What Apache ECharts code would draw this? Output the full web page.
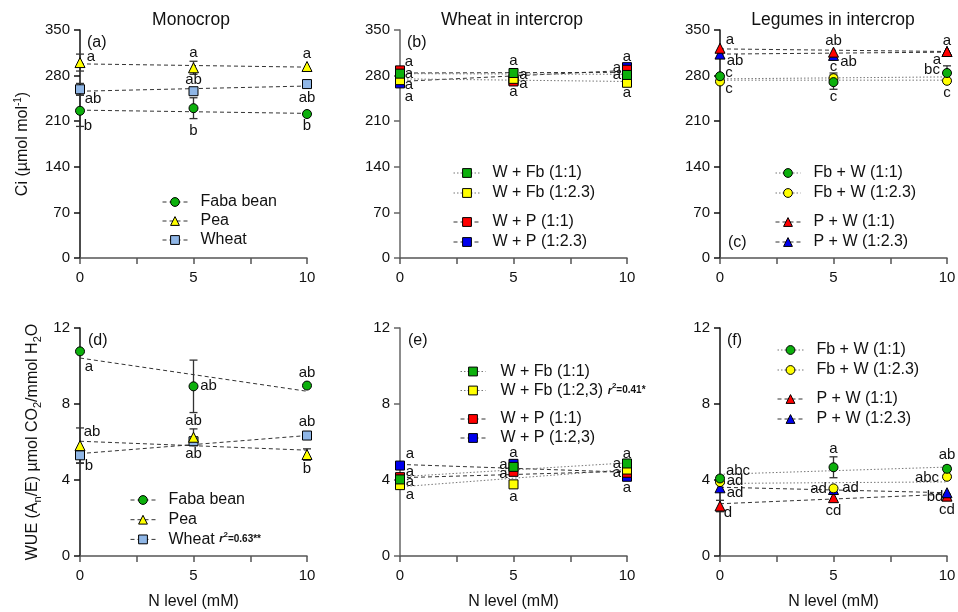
<!DOCTYPE html>
<html><head><meta charset="utf-8">
<script src="https://cdn.jsdelivr.net/npm/echarts@6/dist/echarts.min.js"></script>
<style>html,body{margin:0;padding:0;background:#fff}#c{width:958px;height:612px}</style>
</head><body><div id="c"></div>
<script>
// ---------- DATA ----------
const nLevels = [0, 5, 10];
const xTickLabels = [0, 5, 10];
const ciTicks = [0, 70, 140, 210, 280, 350];
const wueTicks = [0, 4, 8, 12];

// (a) Ci, monocrop
const aFaba = [226, 230, 221], aFabaErr = [24, 16, 0], aFabaFit = [227, 222], aFabaSig = ['b', 'b', 'b'];
const aPea = [300, 292, 294], aPeaErr = [13, 10, 0], aPeaFit = [298, 293], aPeaSig = ['a', 'a', 'a'];
const aWheat = [259, 256, 267], aWheatErr = [9, 4, 0], aWheatFit = [256, 264], aWheatSig = ['ab', 'ab', 'ab'];

// (b) Ci, wheat in intercrop
const bWFb11 = [283, 284, 281], bWFb11Fit = [283, 282], bWFb11Sig = ['a', 'a', 'a'];
const bWFb23 = [273, 275, 269], bWFb23Fit = [275, 271], bWFb23Sig = ['a', 'a', 'a'];
const bWP11 = [288, 271, 289], bWP11Fit = [284, 285], bWP11Sig = ['a', 'a', 'a'];
const bWP23 = [268, 272, 293], bWP23Fit = [271, 288], bWP23Sig = ['a', 'a', 'a'];
const bErr = [0, 0, 0];

// (c) Ci, legumes in intercrop
const cFbW11 = [279, 270, 284], cFbW11Err = [4, 11, 11], cFbW11Fit = [275, 278], cFbW11Sig = ['c', 'c', 'bc'];
const cFbW23 = [271, 276, 272], cFbW23Err = [0, 8, 0], cFbW23Fit = [273, 273], cFbW23Sig = ['c', 'c', 'c'];
const cPW11 = [322, 316, 317], cPW11Err = [0, 0, 0], cPW11Fit = [321, 317], cPW11Sig = ['a', 'ab', 'a'];
const cPW23 = [313, 311, 317], cPW23Err = [0, 0, 0], cPW23Fit = [313, 316], cPW23Sig = ['ab', 'ab', 'a'];

// (d) WUE, monocrop
const dFaba = [10.77, 8.93, 8.97], dFabaErr = [0, 1.38, 0], dFabaFit = [10.42, 8.67], dFabaSig = ['a', 'ab', 'ab'];
const dPea = [5.81, 6.25, 5.34], dPeaErr = [0.93, 0.44, 0.3], dPeaFit = [6.04, 5.57], dPeaSig = ['ab', 'ab', 'b'];
const dWheat = [5.30, 6.04, 6.34], dWheatErr = [0.4, 0.1, 0], dWheatFit = [5.39, 6.34], dWheatSig = ['b', 'ab', 'ab'];

// (e) WUE, wheat in intercrop
const eWFb11 = [4.03, 4.69, 4.87], eWFb11Fit = [4.17, 4.90], eWFb11Sig = ['a', 'a', 'a'];
const eWFb23 = [3.73, 3.77, 4.55], eWFb23Fit = [3.64, 4.55], eWFb23Sig = ['a', 'a', 'a'];
const eWP11 = [4.15, 4.43, 4.38], eWP11Fit = [4.12, 4.46], eWP11Sig = ['a', 'a', 'a'];
const eWP23 = [4.76, 4.85, 4.17], eWP23Fit = [4.82, 4.41], eWP23Sig = ['a', 'a', 'a'];
const eErr = [0, 0, 0];

// (f) WUE, legumes in intercrop
const fFbW11 = [4.08, 4.67, 4.59], fFbW11Err = [0.15, 0.55, 0.15], fFbW11Fit = [4.30, 4.68], fFbW11Sig = ['abc', 'a', 'ab'];
const fFbW23 = [3.89, 3.56, 4.17], fFbW23Err = [0, 0, 0], fFbW23Fit = [3.82, 3.90], fFbW23Sig = ['ad', 'ad', 'abc'];
const fPW11 = [2.63, 3.07, 3.15], fPW11Err = [0.3, 0, 0.1], fPW11Fit = [2.75, 3.25], fPW11Sig = ['d', 'cd', 'cd'];
const fPW23 = [3.59, 3.50, 3.33], fPW23Err = [0, 0, 0], fPW23Fit = [3.62, 3.33], fPW23Sig = ['ad', 'ad', 'bd'];

// ---------- STYLES / LAYOUT ----------
const FONT = '"Liberation Sans", Arial, sans-serif';
const TXT = '#111';
const COL = { faba: '#0cb00c', pea: '#ffff00', wheat: '#8fb6e6', red: '#ff0000', blue: '#0000ee', yellow: '#ffff00', green: '#0cb00c' };
const DASH = { type: [4, 3], color: '#333' };
const DOT = { type: [1.5, 2], color: '#777' };

const gridBoxes = [
  { left: 80, top: 30 }, { left: 400, top: 30 }, { left: 720, top: 30 },
  { left: 80, top: 328 }, { left: 400, top: 328 }, { left: 720, top: 328 }
];
const yAxisColors = ['#111', '#666', '#111', '#111', '#666', '#111'];

const panels = [
  { grid: 0, items: [
    { name: 'Wheat', v: aWheat, e: aWheatErr, f: aWheatFit, s: aWheatSig, sym: 'rect', c: COL.wheat, ln: DASH, off: [[13, 10], [0, -11], [0, 14]] },
    { name: 'Pea', v: aPea, e: aPeaErr, f: aPeaFit, s: aPeaSig, sym: 'triangle', c: COL.pea, ln: DASH, off: [[11, -6], [0, -15], [0, -13]] },
    { name: 'Faba bean', v: aFaba, e: aFabaErr, f: aFabaFit, s: aFabaSig, sym: 'circle', c: COL.faba, ln: DASH, off: [[8, 15], [0, 23], [0, 12]] }
  ]},
  { grid: 1, items: [
    { name: 'W + P (1:2.3)', v: bWP23, e: bErr, f: bWP23Fit, s: bWP23Sig, sym: 'rect', c: COL.blue, ln: DASH, off: [[9, 13], [0, 11], [0, -10]] },
    { name: 'W + P (1:1)', v: bWP11, e: bErr, f: bWP11Fit, s: bWP11Sig, sym: 'rect', c: COL.red, ln: DASH, off: [[9, -9], [10, 2], [-10, -2]] },
    { name: 'W + Fb (1:2.3)', v: bWFb23, e: bErr, f: bWFb23Fit, s: bWFb23Sig, sym: 'rect', c: COL.yellow, ln: DOT, off: [[9, 5], [10, -4], [0, 10]] },
    { name: 'W + Fb (1:1)', v: bWFb11, e: bErr, f: bWFb11Fit, s: bWFb11Sig, sym: 'rect', c: COL.green, ln: DOT, off: [[9, 0], [0, -12], [-10, 0]] }
  ]},
  { grid: 2, items: [
    { name: 'Fb + W (1:2.3)', v: cFbW23, e: cFbW23Err, f: cFbW23Fit, s: cFbW23Sig, sym: 'circle', c: COL.yellow, ln: DOT, off: [[9, 7], [0, -11], [0, 12]] },
    { name: 'Fb + W (1:1)', v: cFbW11, e: cFbW11Err, f: cFbW11Fit, s: cFbW11Sig, sym: 'circle', c: COL.green, ln: DOT, off: [[9, -3], [0, 15], [-15, -3]] },
    { name: 'P + W (1:2.3)', v: cPW23, e: cPW23Err, f: cPW23Fit, s: cPW23Sig, sym: 'triangle', c: COL.blue, ln: DASH, off: [[15, 7], [15, 6], [-10, 8]] },
    { name: 'P + W (1:1)', v: cPW11, e: cPW11Err, f: cPW11Fit, s: cPW11Sig, sym: 'triangle', c: COL.red, ln: DASH, off: [[10, -8], [0, -11], [0, -11]] }
  ]},
  { grid: 3, items: [
    { name: 'Wheat', v: dWheat, e: dWheatErr, f: dWheatFit, s: dWheatSig, sym: 'rect', c: COL.wheat, ln: DASH, off: [[9, 11], [0, 13], [0, -14]] },
    { name: 'Pea', v: dPea, e: dPeaErr, f: dPeaFit, s: dPeaSig, sym: 'triangle', c: COL.pea, ln: DASH, off: [[12, -14], [0, -16], [0, 14]] },
    { name: 'Faba bean', v: dFaba, e: dFabaErr, f: dFabaFit, s: dFabaSig, sym: 'circle', c: COL.faba, ln: DASH, off: [[9, 15], [15, 0], [0, -13]] }
  ]},
  { grid: 4, items: [
    { name: 'W + P (1:2,3)', v: eWP23, e: eErr, f: eWP23Fit, s: eWP23Sig, sym: 'rect', c: COL.blue, ln: DASH, off: [[10, -12], [0, -11], [0, 11]] },
    { name: 'W + P (1:1)', v: eWP11, e: eErr, f: eWP11Fit, s: eWP11Sig, sym: 'rect', c: COL.red, ln: DASH, off: [[10, -5], [-10, 2], [-10, 0]] },
    { name: 'W + Fb (1:2,3)', v: eWFb23, e: eErr, f: eWFb23Fit, s: eWFb23Sig, sym: 'rect', c: COL.yellow, ln: DOT, off: [[10, 10], [0, 12], [-10, -6]] },
    { name: 'W + Fb (1:1)', v: eWFb11, e: eErr, f: eWFb11Fit, s: eWFb11Sig, sym: 'rect', c: COL.green, ln: DOT, off: [[10, 2], [-10, -2], [0, -10]] }
  ]},
  { grid: 5, items: [
    { name: 'P + W (1:1)', v: fPW11, e: fPW11Err, f: fPW11Fit, s: fPW11Sig, sym: 'triangle', c: COL.red, ln: DASH, off: [[8, 7], [0, 13], [0, 14]] },
    { name: 'P + W (1:2.3)', v: fPW23, e: fPW23Err, f: fPW23Fit, s: fPW23Sig, sym: 'triangle', c: COL.blue, ln: DASH, off: [[15, 5], [17, -2], [-12, 4]] },
    { name: 'Fb + W (1:2.3)', v: fFbW23, e: fFbW23Err, f: fFbW23Fit, s: fFbW23Sig, sym: 'circle', c: COL.yellow, ln: DOT, off: [[15, -1], [-15, 0], [-20, 1]] },
    { name: 'Fb + W (1:1)', v: fFbW11, e: fFbW11Err, f: fFbW11Fit, s: fFbW11Sig, sym: 'circle', c: COL.green, ln: DOT, off: [[18, -8], [0, -18], [0, -14]] }
  ]}
];

// ---------- BUILD ----------
const grids = gridBoxes.map(g => ({ left: g.left, top: g.top, width: 227, height: 228, containLabel: false, outerBoundsMode: 'none' }));

const xAxes = gridBoxes.map((g, i) => ({
  gridIndex: i, type: 'value', min: 0, max: 10, interval: 2.5,
  axisLine: { show: true, onZero: false, lineStyle: { color: '#555', width: 1.5 } },
  axisTick: { show: true, length: 6, lineStyle: { color: '#555', width: 1.5 } },
  axisLabel: { fontSize: 15, color: TXT, margin: 12, fontFamily: FONT,
    formatter: v => (xTickLabels.indexOf(v) >= 0 ? String(v) : '') },
  splitLine: { show: false },
  name: i >= 3 ? 'N level (mM)' : '', nameLocation: 'middle', nameGap: 38,
  nameTextStyle: { fontSize: 16, color: TXT, fontFamily: FONT }
}));

const yAxes = gridBoxes.map((g, i) => {
  const top = i < 3;
  const ticks = top ? ciTicks : wueTicks;
  const ax = {
    gridIndex: i, type: 'value', min: ticks[0], max: ticks[ticks.length - 1], interval: ticks[1] - ticks[0],
    axisLine: { show: true, onZero: false, lineStyle: { color: yAxisColors[i], width: 1.5 } },
    axisTick: { show: true, length: 6, lineStyle: { color: yAxisColors[i], width: 1.5 } },
    axisLabel: { fontSize: 15, color: TXT, margin: 10, fontFamily: FONT },
    splitLine: { show: false }
  };
  if (i === 0) {
    ax.name = '{t|Ci (µmol mol}{sup|-1}{t|)}';
    ax.nameLocation = 'middle'; ax.nameGap = 47;
    ax.nameTextStyle = { color: TXT, fontFamily: FONT, rich: {
      t: { fontSize: 16, lineHeight: 20, color: TXT, fontFamily: FONT },
      sup: { fontSize: 10, lineHeight: 10, verticalAlign: 'top', color: TXT, fontFamily: FONT } } };
  }
  if (i === 3) {
    ax.name = '{t|WUE (A}{sub|n}{t|/E) µmol CO}{sub|2}{t|/mmol H}{sub|2}{t|O}';
    ax.nameLocation = 'middle'; ax.nameGap = 37;
    ax.nameTextStyle = { color: TXT, fontFamily: FONT, rich: {
      t: { fontSize: 16, lineHeight: 20, color: TXT, fontFamily: FONT },
      sub: { fontSize: 11, lineHeight: 11, verticalAlign: 'bottom', color: TXT, fontFamily: FONT } } };
  }
  return ax;
});

const lineSeries = [], errSeries = [], ptSeries = [];
panels.forEach(p => p.items.forEach(it => {
  lineSeries.push({
    type: 'line', name: it.name, xAxisIndex: p.grid, yAxisIndex: p.grid,
    data: [[nLevels[0], it.f[0]], [nLevels[nLevels.length - 1], it.f[1]]],
    showSymbol: false, symbol: it.sym, symbolSize: 9, clip: false, silent: true, z: 2,
    lineStyle: { width: 1, type: it.ln.type, color: it.ln.color },
    itemStyle: { color: it.c, borderColor: '#000', borderWidth: 1, opacity: 1 }
  });
  const errData = it.v.map((y, i) => [nLevels[i], y, it.e[i]]).filter(d => d[2] > 0);
  if (errData.length) {
    errSeries.push({
      type: 'custom', name: it.name + ' err', xAxisIndex: p.grid, yAxisIndex: p.grid, z: 3, silent: true,
      data: errData, encode: { x: 0, y: 1 },
      renderItem: (params, api) => {
        const x = api.value(0), y = api.value(1), e = api.value(2);
        const t = api.coord([x, y + e]), b = api.coord([x, y - e]);
        const w = 4, st = { stroke: '#333', lineWidth: 1.3 };
        return { type: 'group', children: [
          { type: 'line', shape: { x1: t[0], y1: t[1], x2: b[0], y2: b[1] }, style: st },
          { type: 'line', shape: { x1: t[0] - w, y1: t[1], x2: t[0] + w, y2: t[1] }, style: st },
          { type: 'line', shape: { x1: b[0] - w, y1: b[1], x2: b[0] + w, y2: b[1] }, style: st }
        ] };
      }
    });
  }
  ptSeries.push({
    type: 'scatter', name: it.name + ' points', xAxisIndex: p.grid, yAxisIndex: p.grid,
    symbol: it.sym, symbolSize: it.sym === 'triangle' ? 10 : 9, clip: false, z: 4, silent: true,
    itemStyle: { color: it.c, borderColor: '#000', borderWidth: 1, opacity: 1 },
    label: { show: true, position: 'inside', fontSize: 15, color: TXT, opacity: 1, fontFamily: FONT, textBorderWidth: 0 },
    emphasis: { disabled: true },
    data: it.v.map((y, i) => ({ value: [nLevels[i], y], label: { formatter: it.s[i], offset: it.off[i] } }))
  });
}));

function legendBox(names, left, top, w, pad, gap, ln, formatter) {
  const lg = {
    data: names, left: left, top: top, orient: 'vertical', padding: 0, itemGap: gap,
    itemWidth: w, itemHeight: 11, selectedMode: false,
    lineStyle: { width: 1, type: ln.type, color: ln.color },
    itemStyle: { borderColor: '#000', borderWidth: 1, opacity: 1 },
    textStyle: { fontSize: 16, lineHeight: 18, color: TXT, fontFamily: FONT, padding: [0, 0, 0, pad],
      rich: {
        ri: { fontSize: 11, fontStyle: 'italic', fontWeight: 'bold', color: TXT, fontFamily: FONT },
        rs: { fontSize: 8, fontWeight: 'bold', verticalAlign: 'top', lineHeight: 8, color: TXT, fontFamily: FONT },
        rv: { fontSize: 10, fontWeight: 'bold', color: TXT, fontFamily: FONT }
      } }
  };
  if (formatter) lg.formatter = formatter;
  return lg;
}

const legends = [
  legendBox(['Faba bean', 'Pea', 'Wheat'], 162, 193, 25, 8, 1, DASH),
  legendBox(['W + Fb (1:1)', 'W + Fb (1:2.3)'], 453, 164, 27, 7, 2, DOT),
  legendBox(['W + P (1:1)', 'W + P (1:2.3)'], 453, 213, 27, 7, 2, DASH),
  legendBox(['Fb + W (1:1)', 'Fb + W (1:2.3)'], 775, 164, 25, 8, 2, DOT),
  legendBox(['P + W (1:1)', 'P + W (1:2.3)'], 775, 213, 25, 8, 2, DASH),
  legendBox(['Faba bean', 'Pea', 'Wheat'], 130, 491, 25, 8, 1.7, DASH,
    n => (n === 'Wheat' ? 'Wheat {ri|r}{rs|2}{rv|=0.63**}' : n)),
  legendBox(['W + Fb (1:1)', 'W + Fb (1:2,3)'], 460, 362.5, 25, 10, 1, DOT,
    n => (n === 'W + Fb (1:2,3)' ? 'W + Fb (1:2,3) {ri|r}{rs|2}{rv|=0.41*}' : n)),
  legendBox(['W + P (1:1)', 'W + P (1:2,3)'], 460, 410, 25, 10, 1, DASH),
  legendBox(['Fb + W (1:1)', 'Fb + W (1:2.3)'], 777, 341, 26, 8, 2, DOT),
  legendBox(['P + W (1:1)', 'P + W (1:2.3)'], 777, 390, 26, 8, 2, DASH)
];

const titles = [['Monocrop', 191, 20], ['Wheat in intercrop', 512, 20], ['Legumes in intercrop', 833, 20]];
const tags = [['(a)', 87, 43], ['(b)', 407, 43], ['(c)', 728, 243], ['(d)', 88, 341], ['(e)', 408, 341], ['(f)', 727, 341]];
const graphics = [];
titles.forEach(t => graphics.push({ type: 'text', silent: true,
  style: { x: t[1], y: t[2], text: t[0], fontSize: 17.5, fontFamily: FONT, fill: TXT, align: 'center', verticalAlign: 'middle' } }));
tags.forEach(t => graphics.push({ type: 'text', silent: true,
  style: { x: t[1], y: t[2], text: t[0], fontSize: 16, fontFamily: FONT, fill: TXT, align: 'left', verticalAlign: 'middle' } }));

const chart = echarts.init(document.getElementById('c'));
chart.setOption({
  animation: false,
  backgroundColor: '#fff',
  textStyle: { fontFamily: FONT },
  grid: grids, xAxis: xAxes, yAxis: yAxes,
  legend: legends,
  graphic: graphics,
  series: lineSeries.concat(errSeries, ptSeries)
});
</script></body></html>
